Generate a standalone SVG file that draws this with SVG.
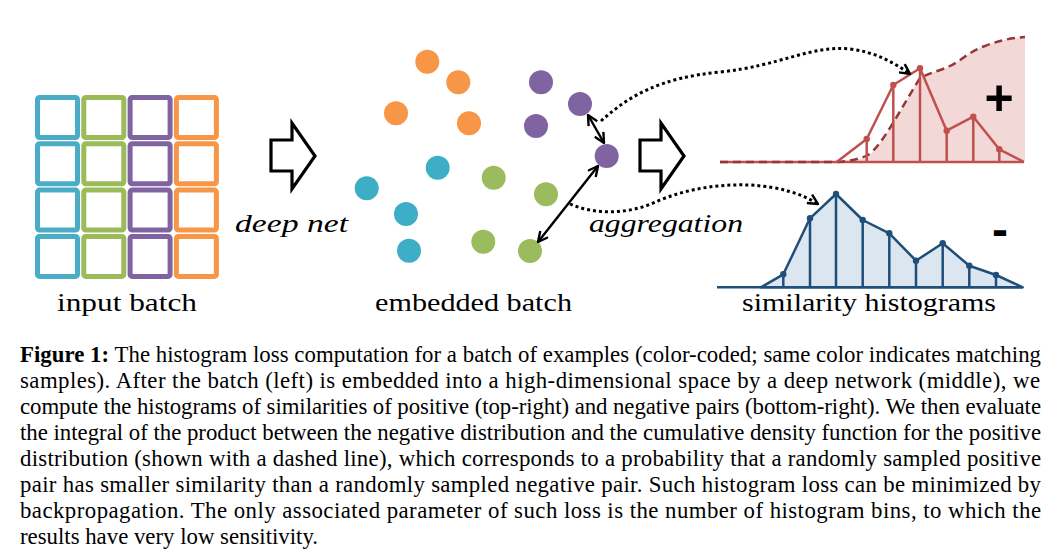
<svg xmlns="http://www.w3.org/2000/svg" width="1061" height="556" viewBox="0 0 1061 556">
<style>
.sq{fill:none;stroke-width:5}
.t{stroke:#4bacc6}.g{stroke:#9bbb59}.p{stroke:#8064a2}.o{stroke:#f79646}
.ft{fill:#3eaec7}.fg{fill:#9bbb5f}.fp{fill:#8064a2}.fo{fill:#f79646}
.lbl{font-family:"Liberation Serif",serif;font-size:26px;fill:#000}
.it{font-style:italic}
.cap{font-family:"Liberation Serif",serif;font-size:22.8px;fill:#000}
.blk{fill:#fff;stroke:#000;stroke-width:3.2;stroke-linejoin:miter}
.dbl{fill:none;stroke:#000;stroke-width:2.4}
.dot{fill:none;stroke:#000;stroke-width:3;stroke-dasharray:3 3}
.red{fill:none;stroke:#c0504d;stroke-width:2.5;stroke-linejoin:round}
.blu{stroke:#1f4e79;stroke-width:2.5;stroke-linejoin:round}
</style>
<defs>
<marker id="ah" viewBox="0 0 12 12" refX="11" refY="6" markerWidth="12" markerHeight="12" orient="auto-start-reverse" markerUnits="userSpaceOnUse">
<path d="M1,1 L11,6 L1,11" fill="none" stroke="#000" stroke-width="2.4" stroke-dasharray="none"/>
</marker>
</defs>
<rect width="1061" height="556" fill="#fff"/>

<g id="input-batch">
<rect class="sq t" x="37.5" y="97.5" width="40" height="40" rx="2"/>
<rect class="sq t" x="37.5" y="143.8" width="40" height="40" rx="2"/>
<rect class="sq t" x="37.5" y="190.1" width="40" height="40" rx="2"/>
<rect class="sq t" x="37.5" y="236.4" width="40" height="40" rx="2"/>
<rect class="sq g" x="83.8" y="97.5" width="40" height="40" rx="2"/>
<rect class="sq g" x="83.8" y="143.8" width="40" height="40" rx="2"/>
<rect class="sq g" x="83.8" y="190.1" width="40" height="40" rx="2"/>
<rect class="sq g" x="83.8" y="236.4" width="40" height="40" rx="2"/>
<rect class="sq p" x="130.1" y="97.5" width="40" height="40" rx="2"/>
<rect class="sq p" x="130.1" y="143.8" width="40" height="40" rx="2"/>
<rect class="sq p" x="130.1" y="190.1" width="40" height="40" rx="2"/>
<rect class="sq p" x="130.1" y="236.4" width="40" height="40" rx="2"/>
<rect class="sq o" x="176.4" y="97.5" width="40" height="40" rx="2"/>
<rect class="sq o" x="176.4" y="143.8" width="40" height="40" rx="2"/>
<rect class="sq o" x="176.4" y="190.1" width="40" height="40" rx="2"/>
<rect class="sq o" x="176.4" y="236.4" width="40" height="40" rx="2"/>
<text class="lbl" x="57" y="311" textLength="140" lengthAdjust="spacingAndGlyphs">input batch</text>
</g>

<g id="deep-net">
<polygon class="blk" points="271,140 292,140 292,123 315,156 292,189 292,171 271,171"/>
<text class="lbl it" x="235" y="232" textLength="113" lengthAdjust="spacingAndGlyphs">deep net</text>
</g>

<g id="embedded-batch">
<circle class="fo" cx="427.3" cy="61.7" r="12"/>
<circle class="fo" cx="458.3" cy="82.3" r="12"/>
<circle class="fo" cx="396" cy="113.3" r="12"/>
<circle class="fo" cx="469" cy="123.3" r="12"/>
<circle class="fp" cx="541" cy="82.3" r="12"/>
<circle class="fp" cx="580" cy="104" r="12"/>
<circle class="fp" cx="536" cy="126" r="12"/>
<circle class="fp" cx="606.7" cy="156" r="12"/>
<circle class="ft" cx="437.7" cy="167.7" r="12"/>
<circle class="ft" cx="366.7" cy="188.3" r="12"/>
<circle class="ft" cx="406" cy="214" r="12"/>
<circle class="ft" cx="409" cy="250.7" r="12"/>
<circle class="fg" cx="493.7" cy="177.7" r="12"/>
<circle class="fg" cx="546" cy="194.3" r="12"/>
<circle class="fg" cx="483.3" cy="241.7" r="12"/>
<circle class="fg" cx="530" cy="251" r="12"/>
<text class="lbl" x="375" y="311" textLength="197" lengthAdjust="spacingAndGlyphs">embedded batch</text>
</g>

<g id="aggregation">
<polygon class="blk" points="640,140 661,140 661,123 684,156 661,189 661,171 640,171"/>
<text class="lbl it" x="589" y="232" textLength="154" lengthAdjust="spacingAndGlyphs">aggregation</text>
</g>

<g id="positive-histogram">
<path d="M837,162 L866,158 C880,150 900,110 920,78 C932,72 942,70 950,66 C962,60 970,51 985,46 C1000,40 1012,38 1025,37 L1025,162 Z" fill="#f2d9d8"/>
<line x1="720" y1="162" x2="1024" y2="162" stroke="#c0504d" stroke-width="2.5"/>
<path d="M720,162 L837,162 C850,161 860,159 868,155 C882,146 900,110 920,78 C932,72 942,70 950,66 C962,60 970,51 985,46 C1000,40 1012,38 1025,37" fill="none" stroke="#953735" stroke-width="2.5" stroke-dasharray="8 5"/>
<polyline class="red" points="836.7,162 866.7,139 893.3,85 920,68.3 946.7,130.7 973.3,116.7 999.3,149.3 1023.3,161.5"/>
<g stroke="#c0504d" stroke-width="2.5">
<line x1="866.7" y1="139" x2="866.7" y2="162"/>
<line x1="893.3" y1="85" x2="893.3" y2="162"/>
<line x1="920" y1="68.3" x2="920" y2="162"/>
<line x1="946.7" y1="130.7" x2="946.7" y2="162"/>
<line x1="973.3" y1="116.7" x2="973.3" y2="162"/>
<line x1="999.3" y1="149.3" x2="999.3" y2="162"/>
</g>
<g fill="#c0504d">
<circle cx="866.7" cy="139" r="3.2"/><circle cx="893.3" cy="85" r="3.2"/><circle cx="920" cy="68.3" r="3.2"/>
<circle cx="946.7" cy="130.7" r="3.2"/><circle cx="973.3" cy="116.7" r="3.2"/><circle cx="999.3" cy="149.3" r="3.2"/>
</g>
<text x="999" y="115" text-anchor="middle" font-family="Liberation Sans,Arial,sans-serif" font-weight="bold" font-size="50">+</text>
</g>

<g id="negative-histogram">
<polygon points="761,287.3 783.3,274.3 810,218.3 836,194 862.7,220 889.3,233.3 916,260.7 942.7,243.3 969.3,265.7 996,275 1022.7,287.3" fill="#dce6f1" class="blu"/>
<line x1="717" y1="287.3" x2="1023" y2="287.3" class="blu"/>
<g class="blu">
<line x1="783.3" y1="274.3" x2="783.3" y2="287.3"/>
<line x1="810" y1="218.3" x2="810" y2="287.3"/>
<line x1="836" y1="194" x2="836" y2="287.3"/>
<line x1="862.7" y1="220" x2="862.7" y2="287.3"/>
<line x1="889.3" y1="233.3" x2="889.3" y2="287.3"/>
<line x1="916" y1="260.7" x2="916" y2="287.3"/>
<line x1="942.7" y1="243.3" x2="942.7" y2="287.3"/>
<line x1="969.3" y1="265.7" x2="969.3" y2="287.3"/>
<line x1="996" y1="275" x2="996" y2="287.3"/>
</g>
<g fill="#1f4e79">
<circle cx="783.3" cy="274.3" r="3.2"/><circle cx="810" cy="218.3" r="3.2"/><circle cx="836" cy="194" r="3.2"/>
<circle cx="862.7" cy="220" r="3.2"/><circle cx="889.3" cy="233.3" r="3.2"/><circle cx="916" cy="260.7" r="3.2"/>
<circle cx="942.7" cy="243.3" r="3.2"/><circle cx="969.3" cy="265.7" r="3.2"/><circle cx="996" cy="275" r="3.2"/>
</g>
<text x="1000" y="246" text-anchor="middle" font-family="Liberation Sans,Arial,sans-serif" font-weight="bold" font-size="48">-</text>
<text class="lbl" x="742" y="311" textLength="254" lengthAdjust="spacingAndGlyphs">similarity histograms</text>
</g>

<g id="connectors">
<line class="dbl" x1="588" y1="115" x2="604" y2="143" marker-start="url(#ah)" marker-end="url(#ah)"/>
<line class="dbl" x1="598" y1="166" x2="538" y2="242" marker-start="url(#ah)" marker-end="url(#ah)"/>
<path class="dot" d="M601,121 C630,95 660,78 720,72 C780,66 810,45 850,49 C875,52 893,62 910,74" marker-end="url(#ah)"/>
<path class="dot" d="M570,204 C595,215 630,215 660,200 C690,188 720,184 750,185 C780,187 800,193 818,204" marker-end="url(#ah)"/>
</g>

<g id="caption">
<text class="cap" x="20" y="362" textLength="1021" lengthAdjust="spacing"><tspan font-weight="bold">Figure 1:</tspan> The histogram loss computation for a batch of examples (color-coded; same color indicates matching</text>
<text class="cap" x="20" y="388" textLength="1020" lengthAdjust="spacing">samples). After the batch (left) is embedded into a high-dimensional space by a deep network (middle), we</text>
<text class="cap" x="20" y="414" textLength="1021" lengthAdjust="spacing">compute the histograms of similarities of positive (top-right) and negative pairs (bottom-right). We then evaluate</text>
<text class="cap" x="20" y="440" textLength="1021" lengthAdjust="spacing">the integral of the product between the negative distribution and the cumulative density function for the positive</text>
<text class="cap" x="20" y="466" textLength="1021" lengthAdjust="spacing">distribution (shown with a dashed line), which corresponds to a probability that a randomly sampled positive</text>
<text class="cap" x="20" y="492" textLength="1021" lengthAdjust="spacing">pair has smaller similarity than a randomly sampled negative pair. Such histogram loss can be minimized by</text>
<text class="cap" x="20" y="518" textLength="1021" lengthAdjust="spacing">backpropagation. The only associated parameter of such loss is the number of histogram bins, to which the</text>
<text class="cap" x="20" y="544">results have very low sensitivity.</text>
</g>
</svg>
